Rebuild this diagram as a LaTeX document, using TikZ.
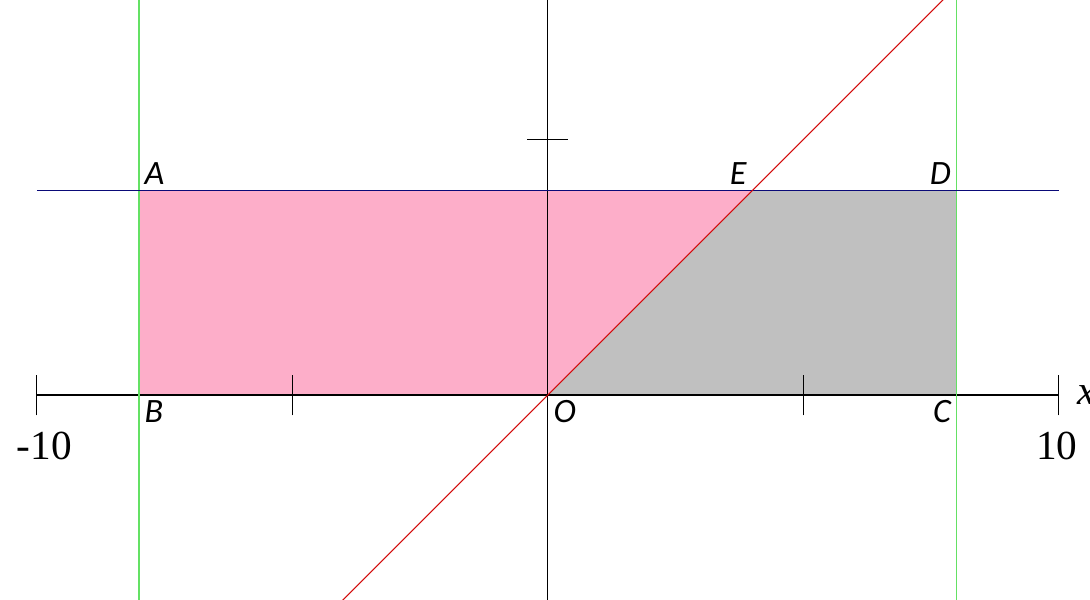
\documentclass[tikz,border=0pt]{standalone}
\usepackage{fontspec}
\usepackage{tikz}
\usepackage{xcolor}
\usetikzlibrary{positioning}
\newfontfamily\ptfont{Carlito}
\newfontfamily\numfont{Liberation Serif}
\definecolor{regionpink}{RGB}{253, 174, 201}
\definecolor{regiongray}{RGB}{192, 192, 192}
\definecolor{edgegreen}{RGB}{100, 225, 100}
\definecolor{edgeblue}{RGB}{10, 10, 120}
\definecolor{diagred}{RGB}{210, 10, 10}
\tikzstyle{axis} = [black, line width=0.7pt]
\tikzstyle{tick} = [black, line width=0.7pt]
\tikzstyle{bound} = [edgegreen, line width=0.6pt]
\tikzstyle{level} = [edgeblue, line width=0.6pt]
\tikzstyle{diag} = [diagred, line width=0.6pt]
\tikzstyle{ptlabel} = [font=\ptfont\itshape\fontsize{19}{22}\selectfont, inner sep=3pt]
\tikzstyle{numlabel} = [font=\numfont\fontsize{23}{26}\selectfont, inner sep=0pt]

\begin{document}
\begin{tikzpicture}
\useasboundingbox (-10.72,-4.01) rectangle (10.61,7.73);

% Corner points of the region
\coordinate (A) at (-8,4);
\coordinate (B) at (-8,0);
\coordinate (C) at (8,0);
\coordinate (D) at (8,4);
\coordinate (E) at (4,4);
\coordinate (O) at (0,0);

% Shaded parts
\fill [regionpink] (A) -- (E) -- (O) -- (B) -- cycle;
\fill [regiongray] (O) -- (E) -- (D) -- (C) -- cycle;

% Axes and ticks
\coordinate (xl) at (-10,0);
\coordinate (xr) at (10,0);
\coordinate (yb) at (0,-4.05);
\coordinate (yt) at (0,7.8);
\draw [axis] (xl) -- (xr);
\draw [axis] (yb) -- (yt);
\foreach \t in {-10,-5,5,10}
  \draw [tick] (\t,-0.4) -- (\t,0.4);
\draw [tick] (-0.4,5) -- (0.4,5);

% Boundary lines
\coordinate (gl1) at (-8,-4.05);
\coordinate (gl2) at (-8,7.8);
\coordinate (gr1) at (8,-4.05);
\coordinate (gr2) at (8,7.8);
\coordinate (bl) at (-10,4);
\coordinate (br) at (10,4);
\draw [bound] (gl1) -- (gl2);
\draw [bound] (gr1) -- (gr2);
\draw [level] (bl) -- (br);

% Line y = x
\coordinate (d1) at (-4.05,-4.05);
\coordinate (d2) at (7.8,7.8);
\draw [diag] (d1) -- (d2);

% Labels
\node (labA) [ptlabel, above right=0pt and 0pt of A] {A};
\node (labB) [ptlabel, below right=0pt and 0pt of B] {B};
\node (labC) [ptlabel, below left=0pt and 0pt of C] {C};
\node (labD) [ptlabel, above left=0pt and 0pt of D] {D};
\node (labE) [ptlabel, above left=0pt and 0pt of E] {E};
\node (labO) [ptlabel, below right=0pt and 0pt of O] {O};
\node (minten) [numlabel] at (-9.85,-1) {-10};
\node (ten) [numlabel] at (9.96,-1) {10};
\node (xlab) [numlabel, anchor=west, font=\numfont\itshape\fontsize{23}{26}\selectfont] at (10.35,0) {x};

\end{tikzpicture}
\end{document}
